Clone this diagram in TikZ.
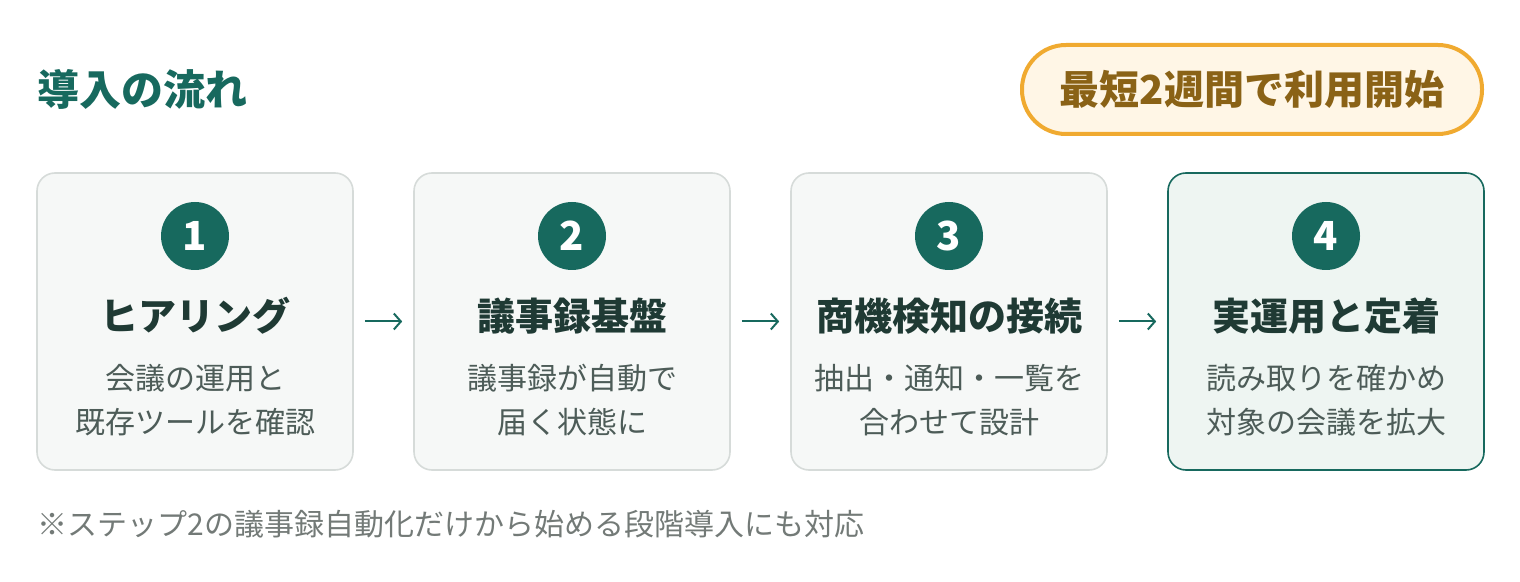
\documentclass[tikz,border=0pt]{standalone}
\usepackage{fontspec}
\setmainfont{Noto Sans CJK JP}
\usetikzlibrary{arrows.meta}
\definecolor{teal}{HTML}{17695E}
\definecolor{inkdark}{HTML}{1F3A34}
\definecolor{inkgray}{HTML}{4D5C58}
\definecolor{notegray}{HTML}{737A77}
\definecolor{boxfill}{HTML}{F6F8F7}
\definecolor{boxline}{HTML}{D6DBD9}
\definecolor{lastfill}{HTML}{EEF5F2}
\definecolor{badgeline}{HTML}{F0AA30}
\definecolor{badgefill}{HTML}{FFF6E6}
\definecolor{badgeink}{HTML}{8A6216}
\begin{document}
\begin{tikzpicture}[x=0.5pt, y=-0.5pt]
\tikzset{stepbox/.style={draw=boxline, fill=boxfill, line width=0.8pt, rounded corners=9pt, minimum width=158pt, minimum height=148.5pt},
  laststep/.style={stepbox, draw=teal, fill=lastfill},
  numdot/.style={circle, fill=teal, text=white, minimum size=34pt, inner sep=0pt, font=\fontsize{20}{20}\selectfont\bfseries},
  steptitle/.style={text=inkdark, font=\fontsize{19}{19}\selectfont\bfseries},
  stepnote/.style={text=inkgray, align=center, font=\fontsize{15}{22}\selectfont},
  flowarrow/.style={draw=teal, line width=1pt, -{Straight Barb[length=3.5pt, width=8pt]}, shorten <=5.5pt, shorten >=5.5pt}}
\useasboundingbox (0,0) rectangle (1520,582);
% heading and badge
\node[anchor=west, inner sep=0pt, text=teal, font=\fontsize{21}{21}\selectfont\bfseries] (head) at (37,89) {導入の流れ};
\node[draw=badgeline, fill=badgefill, line width=2pt, rounded corners=22pt, minimum width=230pt, minimum height=44.5pt, text=badgeink, font=\fontsize{20}{20}\selectfont\bfseries] (badge) at (1252,89.5) {最短2週間で利用開始};
% steps
\node[stepbox] (b1) at (195,321.5) {};
\node[stepbox] (b2) at (572,321.5) {};
\node[stepbox] (b3) at (949,321.5) {};
\node[laststep] (b4) at (1326,321.5) {};
\node[numdot] (n1) at (195,236) {1};
\node[numdot] (n2) at (572,236) {2};
\node[numdot] (n3) at (949,236) {3};
\node[numdot] (n4) at (1326,236) {4};
\node[steptitle] (t1) at (195,316) {ヒアリング};
\node[steptitle] (t2) at (572,316) {議事録基盤};
\node[steptitle] (t3) at (949,316) {商機検知の接続};
\node[steptitle] (t4) at (1326,316) {実運用と定着};
\node[stepnote] (s1) at (195,400) {会議の運用と\\既存ツールを確認};
\node[stepnote] (s2) at (572,400) {議事録が自動で\\届く状態に};
\node[stepnote] (s3) at (949,400) {抽出・通知・一覧を\\合わせて設計};
\node[stepnote] (s4) at (1326,400) {読み取りを確かめ\\対象の会議を拡大};
\draw[flowarrow] (b1) -- (b2);
\draw[flowarrow] (b2) -- (b3);
\draw[flowarrow] (b3) -- (b4);
% note
\node[anchor=west, inner sep=0pt, text=notegray, font=\fontsize{15}{15}\selectfont] (note) at (37,524) {※ステップ2の議事録自動化だけから始める段階導入にも対応};
\end{tikzpicture}
\end{document}
